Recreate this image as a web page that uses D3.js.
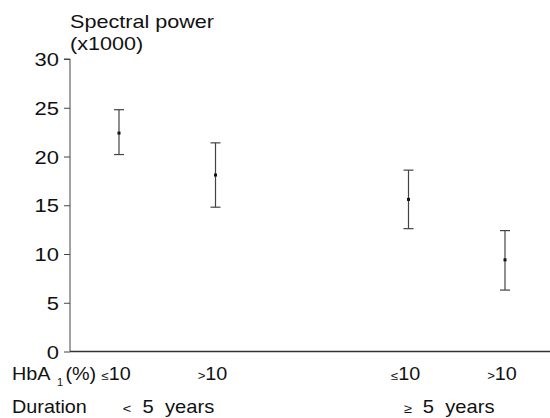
<!DOCTYPE html>
<html>
<head>
<meta charset="utf-8">
<script src="https://cdn.jsdelivr.net/npm/d3@7"></script>
<style>
  body { margin: 0; background: #fff; }
  svg { font-family: 'Liberation Sans', Arial, sans-serif; }
</style>
</head>
<body>
<svg width="550" height="418"></svg>
<script>
const hbaSigns = ['≤', '>', '≤', '>']
const hbaValues = ['10', '10', '10', '10']
const slots = [0, 1, 3, 4]
const means = [22.4, 18.1, 15.6, 9.4]
const upper = [24.8, 21.4, 18.6, 12.4]
const lower = [20.2, 14.8, 12.6, 6.3]
const yTicks = [0, 5, 10, 15, 20, 25, 30]
const durationSigns = ['<', '≥']
const durationText = ['5 years', '5 years']
const durationSlots = [0.04, 2.95]

const svg = d3.select('svg')

const x = d3.scaleLinear().domain([0, 4]).range([119, 505])
const y = d3.scaleLinear().domain([0, 30]).range([351.5, 59])

// text is a bit wider than the font in the scan, so stretch it
const label = (px, py, txt, size, stretch, anchor) => {
  return svg.append('text')
    .attr('transform', `translate(${px},${py}) scale(${stretch},1)`)
    .attr('text-anchor', anchor || 'start')
    .attr('font-size', size)
    .attr('fill', '#111')
    .text(txt)
}

// y axis
const yAxis = svg.append('g')
  .attr('transform', 'translate(70,0)')
  .call(d3.axisLeft(y).tickValues(yTicks).tickSize(6).tickFormat(''))
yAxis.select('.domain').attr('stroke', '#444').attr('d', `M-6,${y(30)}H0V${y(0)}`)
yAxis.selectAll('.tick line').attr('stroke', '#444')
yTicks.forEach((t) => {
  label(59, y(t) + 7, String(t), 18, 1.22, 'end')
})

// x baseline
svg.append('line')
  .attr('x1', 70).attr('x2', 550)
  .attr('y1', y(0)).attr('y2', y(0))
  .attr('stroke', '#333')
  .attr('stroke-width', 1.3)

// title
label(70, 28, 'Spectral power', 18, 1.2)
label(70, 50, '(x1000)', 18, 1.2)

// error bars
const bars = svg.append('g').attr('stroke', '#444').attr('stroke-width', 1.2)
slots.forEach((s, i) => {
  const cx = x(s)
  bars.append('line').attr('x1', cx).attr('x2', cx).attr('y1', y(upper[i])).attr('y2', y(lower[i]))
  bars.append('line').attr('x1', cx - 5).attr('x2', cx + 5).attr('y1', y(upper[i])).attr('y2', y(upper[i]))
  bars.append('line').attr('x1', cx - 5).attr('x2', cx + 5).attr('y1', y(lower[i])).attr('y2', y(lower[i]))
  svg.append('rect')
    .attr('x', cx - 1.5).attr('y', y(means[i]) - 1.5)
    .attr('width', 3).attr('height', 3)
    .attr('fill', '#111')
})

// HbA1 row
const hba = label(12, 380, 'HbA', 18, 1.1)
hba.append('tspan').attr('font-size', 10).attr('dx', 6).attr('dy', 6).text('1')
hba.append('tspan').attr('dy', -6).attr('dx', 2).text('(%)')
slots.forEach((s, i) => {
  const t = label(x(s) - 3, 380, '', 18, 1.1, 'middle')
  t.append('tspan').attr('font-size', 12).text(hbaSigns[i])
  t.append('tspan').text(hbaValues[i])
})

// duration row
label(12, 413, 'Duration', 18, 1.1)
durationSlots.forEach((s, i) => {
  const t = label(x(s), 413, '', 18, 1.12, 'start').attr('word-spacing', 5)
  t.append('tspan').attr('font-size', 13).text(durationSigns[i])
  t.append('tspan').text(' ' + durationText[i])
})
</script>
</body>
</html>
